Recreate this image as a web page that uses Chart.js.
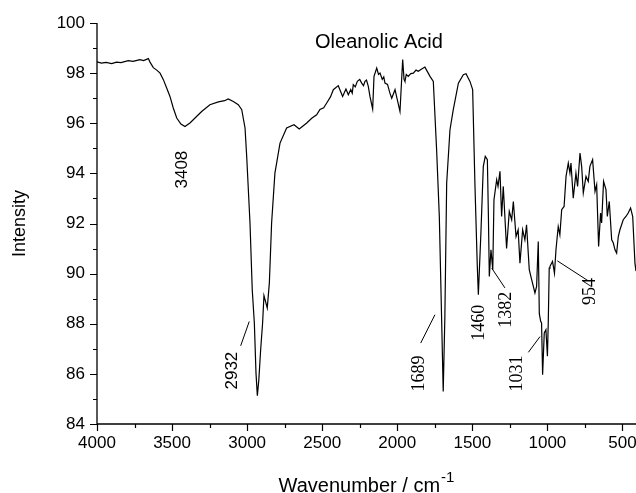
<!DOCTYPE html>
<html lang="en">
<head>
  <meta charset="utf-8">
  <title>Oleanolic Acid IR</title>
  <style>
    html, body { margin: 0; padding: 0; background: #fff; }
    canvas { display: block; }
  </style>
</head>
<body>
  <canvas id="ir" width="636" height="493"></canvas>

  <script src="https://cdn.jsdelivr.net/npm/chart.js"></script>
  <script>
    // spectrum: wavenumber (cm-1) and intensity
    const wavenumber = [
      4000, 3970, 3940, 3902, 3870, 3840, 3792, 3760, 3714, 3690, 3658, 3647, 3625, 3602, 3580, 3558,
      3536, 3514, 3492, 3469, 3441, 3414, 3381, 3347, 3303, 3248, 3192, 3150, 3126, 3092, 3059, 3036,
      3014, 3003, 2981, 2966, 2952, 2941, 2932, 2922, 2910, 2897, 2888, 2866, 2852, 2837, 2815, 2781,
      2737, 2688, 2653, 2603, 2570, 2537, 2515, 2490, 2470, 2445, 2426, 2393, 2364, 2342, 2326, 2310,
      2300, 2293, 2280, 2266, 2250, 2237, 2225, 2215, 2205, 2193, 2182, 2164, 2155, 2137, 2125, 2115,
      2100, 2090, 2082, 2065, 2049, 2037, 2015, 2000, 1982, 1964, 1955, 1949, 1940, 1927, 1910, 1893,
      1875, 1860, 1840, 1816, 1782, 1760, 1738, 1720, 1705, 1694, 1683, 1671, 1649, 1627, 1593, 1560,
      1542, 1516, 1498, 1483, 1467, 1460, 1443, 1427, 1414, 1400, 1393, 1387, 1376, 1364, 1356, 1338,
      1329, 1316, 1305, 1294, 1272, 1254, 1238, 1227, 1209, 1195, 1183, 1165, 1150, 1139, 1121, 1105,
      1083, 1072, 1061, 1054, 1045, 1039, 1032, 1021, 1010, 1000, 994, 988, 983, 966, 953, 943,
      928, 917, 905, 889, 876, 861, 850, 843, 828, 810, 799, 783, 772, 761, 743, 728,
      717, 699, 683, 672, 659, 646, 639, 626, 610, 601, 588, 572, 561, 550, 539, 528,
      517, 495, 477, 462, 446, 432, 417, 410
    ];
    const intensity = [
      98.45, 98.40, 98.43, 98.38, 98.44, 98.42, 98.50, 98.47, 98.54, 98.50, 98.58, 98.44, 98.22, 98.12, 98.00, 97.74,
      97.41, 97.07, 96.61, 96.21, 95.97, 95.87, 96.01, 96.21, 96.47, 96.74, 96.85, 96.90, 96.97, 96.87, 96.74, 96.54,
      95.81, 94.68, 92.02, 89.36, 88.03, 86.03, 85.13, 85.77, 86.96, 88.03, 89.12, 88.63, 89.63, 92.02, 94.01, 95.21,
      95.81, 95.94, 95.77, 96.01, 96.20, 96.34, 96.55, 96.62, 96.81, 97.05, 97.34, 97.50, 97.07, 97.37, 97.14, 97.35,
      97.20, 97.54, 97.45, 97.67, 97.75, 97.60, 97.50, 97.67, 97.72, 97.47, 97.07, 96.57, 97.87, 98.20, 97.95, 98.00,
      97.75, 97.85, 97.60, 97.55, 97.20, 97.00, 97.34, 96.94, 96.47, 98.54, 97.75, 97.67, 97.95, 97.87, 97.98, 98.00,
      98.12, 98.07, 98.15, 98.24, 97.87, 97.67, 94.94, 92.28, 88.29, 85.30, 88.29, 93.61, 95.74, 96.54, 97.60, 97.94,
      97.98, 97.67, 97.34, 93.61, 90.29, 89.16, 91.62, 94.28, 94.68, 94.55, 92.28, 89.89, 90.95, 90.16, 92.95, 93.75,
      93.48, 94.08, 92.28, 93.48, 91.00, 92.48, 92.15, 92.88, 91.48, 91.75, 90.42, 91.75, 91.35, 91.95, 90.16, 89.76,
      89.23, 89.49, 91.28, 88.40, 88.10, 88.03, 85.97, 87.63, 87.76, 86.70, 88.16, 90.22, 90.29, 90.49, 90.02, 90.95,
      91.88, 91.55, 92.55, 92.68, 93.88, 94.41, 94.01, 94.41, 93.01, 94.01, 93.48, 94.81, 94.28, 93.22, 93.88, 93.68,
      94.28, 94.55, 93.28, 93.55, 91.08, 92.42, 92.02, 93.68, 93.35, 92.28, 92.88, 91.35, 91.22, 90.95, 90.82, 91.48,
      91.75, 92.15, 92.28, 92.42, 92.62, 92.28, 90.42, 90.10
    ];

    // peak labels: text, label centre and leader line, in data units
    const peakText  = ['3408', '2932', '1689', '1460', '1382', '1031', '954'];
    const peakX     = [3429, 3097, 1852, 1456, 1273, 1199, 713];
    const peakY     = [94.15, 86.13, 86.01, 88.04, 88.56, 86.01, 89.29];
    const peakSerif = [false, false, true, true, true, true, true];
    const leaders = [
      null,
      [3043, 87.12, 2986, 88.09],
      [1844, 87.23, 1749, 88.36],
      null,
      [1283, 89.43, 1371, 90.22],
      [1127, 86.86, 1049, 87.49],
      [934, 90.51, 730, 89.72]
    ];

    const SANS = "'Liberation Sans', Arial, sans-serif";
    const SERIF = "'Liberation Serif', 'Times New Roman', serif";

    const decor = {
      id: 'decor',
      afterDraw(chart) {
        const ctx = chart.ctx;
        const xs = chart.scales.x, ys = chart.scales.y;
        const area = chart.chartArea;
        ctx.save();
        ctx.strokeStyle = '#000';
        ctx.fillStyle = '#000';

        // axis lines
        ctx.lineWidth = 1.3;
        ctx.beginPath();
        ctx.moveTo(area.left, area.top);
        ctx.lineTo(area.left, area.bottom);
        ctx.lineTo(area.right, area.bottom);
        ctx.stroke();

        // major / minor ticks
        ctx.lineWidth = 1.2;
        ctx.beginPath();
        xs.ticks.forEach(t => {
          const px = Math.round(xs.getPixelForValue(t.value)) + 0.5;
          const len = t.value % 500 === 0 ? 7 : 4;
          ctx.moveTo(px, area.bottom);
          ctx.lineTo(px, area.bottom + len);
        });
        ys.ticks.forEach(t => {
          const py = Math.round(ys.getPixelForValue(t.value)) + 0.5;
          const len = t.value % 2 === 0 ? 7 : 4;
          ctx.moveTo(area.left, py);
          ctx.lineTo(area.left - len, py);
        });
        ctx.stroke();

        // peak labels
        ctx.lineWidth = 1;
        peakText.forEach((txt, i) => {
          const px = xs.getPixelForValue(peakX[i]);
          const py = ys.getPixelForValue(peakY[i]);
          ctx.save();
          ctx.translate(px, py);
          ctx.rotate(-Math.PI / 2);
          ctx.font = peakSerif[i] ? '18px ' + SERIF : '17px ' + SANS;
          ctx.textAlign = 'center';
          ctx.textBaseline = 'middle';
          ctx.fillText(txt, 0, 0);
          ctx.restore();
          const l = leaders[i];
          if (l) {
            ctx.beginPath();
            ctx.moveTo(xs.getPixelForValue(l[0]), ys.getPixelForValue(l[1]));
            ctx.lineTo(xs.getPixelForValue(l[2]), ys.getPixelForValue(l[3]));
            ctx.stroke();
          }
        });

        // sample name
        ctx.font = '20px ' + SANS;
        ctx.textAlign = 'center';
        ctx.textBaseline = 'alphabetic';
        ctx.fillText('Oleanolic Acid', xs.getPixelForValue(2122), ys.getPixelForValue(99.0));

        // x axis title with superscript
        const main = 'Wavenumber / cm', sup = '-1';
        ctx.font = '20px ' + SANS;
        const wMain = ctx.measureText(main).width;
        ctx.font = '15px ' + SANS;
        const wSup = ctx.measureText(sup).width;
        const x0 = (area.left + area.right) / 2 - (wMain + wSup + 1) / 2;
        const base = chart.height - 1.5;
        ctx.textAlign = 'left';
        ctx.font = '20px ' + SANS;
        ctx.fillText(main, x0, base);
        ctx.font = '15px ' + SANS;
        ctx.fillText(sup, x0 + wMain + 1, base - 10);
        ctx.restore();
      }
    };

    new Chart(document.getElementById('ir'), {
      type: 'line',
      data: {
        datasets: [{
          data: wavenumber.map((w, i) => ({ x: w, y: intensity[i] })),
          borderColor: '#000',
          borderWidth: 1.2,
          pointRadius: 0,
          tension: 0,
          fill: false
        }]
      },
      options: {
        responsive: false,
        animation: false,
        devicePixelRatio: 1,
        layout: { padding: { top: 23, right: 0, bottom: 0, left: 0 } },
        plugins: { legend: { display: false }, tooltip: { enabled: false } },
        scales: {
          x: {
            type: 'linear',
            reverse: true,
            min: 410,
            max: 4000,
            afterFit: s => { s.height = 69; s.paddingLeft = 0; s.paddingRight = 0; },
            grid: { display: false, drawTicks: false },
            border: { display: false },
            ticks: {
              stepSize: 250,
              includeBounds: false,
              autoSkip: false,
              maxRotation: 0,
              padding: 9,
              color: '#000',
              font: { family: SANS, size: 17 },
              callback: v => (v % 500 === 0 ? String(v) : '')
            }
          },
          y: {
            min: 84,
            max: 100,
            afterFit: s => { s.width = 97; s.paddingTop = 0; s.paddingBottom = 0; },
            grid: { display: false, drawTicks: false },
            border: { display: false },
            ticks: {
              stepSize: 1,
              autoSkip: false,
              padding: 12,
              color: '#000',
              font: { family: SANS, size: 17 },
              callback: v => (v % 2 === 0 ? String(v) : '')
            },
            title: {
              display: true,
              text: 'Intensity',
              color: '#000',
              font: { family: SANS, size: 18 },
              padding: { top: 9, bottom: 0 }
            }
          }
        }
      },
      plugins: [decor]
    });
  </script>
</body>
</html>
